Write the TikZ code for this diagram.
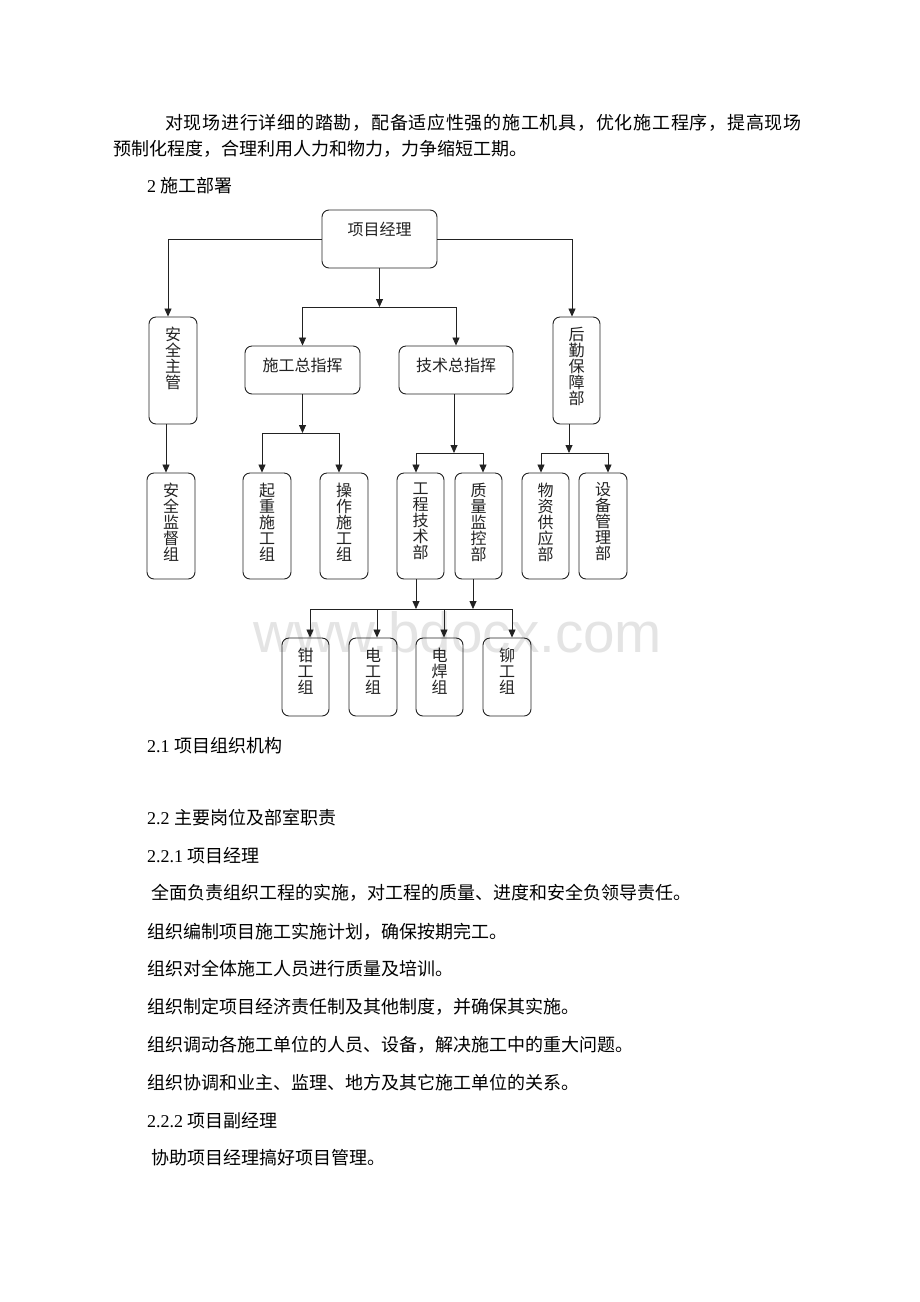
\documentclass[tikz,border=0pt]{standalone}
\usepackage{fontspec}
\usepackage{tikz}
\usetikzlibrary{arrows.meta}
\setmainfont{Liberation Serif}
\newfontfamily\cjk{Noto Sans CJK SC}
\newfontfamily\cjkwide[LetterSpace=4.1]{Noto Sans CJK SC}
\newfontfamily\wmfont{Liberation Sans}
\definecolor{ink}{HTML}{222222}
\definecolor{mark}{HTML}{E4E4E4}

\tikzset{
  box/.style={draw=ink, rounded corners=7pt, line width=0.9pt, inner sep=0pt},
  lbl/.style={font=\cjk\fontsize{16}{16}\selectfont, text=ink, align=center, inner sep=0pt, anchor=north},
  link/.style={draw=ink, line width=0.8pt},
  arr/.style={link, -{Triangle[length=8pt,width=7pt]}},
  body/.style={font=\fontsize{18}{18}\selectfont, text=black, anchor=base west, inner sep=0pt},
}

\begin{document}
\begin{tikzpicture}[x=1pt, y=-1pt]
\fill[white] (0,0) rectangle (920,1302);
\useasboundingbox (0,0) rectangle (920,1302);

% watermark
\node[font=\wmfont\fontsize{56.6}{56.6}\selectfont, text=mark, anchor=base west, inner sep=0pt] (wm) at (253,652) {www.bdocx.com};

% text above the chart
\node[body] (t1) at (165,129) {\cjkwide 对现场进行详细的踏勘，配备适应性强的施工机具，优化施工程序，提高现场};
\node[body] (t2) at (113,155) {\cjk 预制化程度，合理利用人力和物力，力争缩短工期。};
\node[body] (t3) at (147,192) {2 \cjk 施工部署};

% top level
\node[box, minimum width=115pt, minimum height=58pt, label={[lbl,yshift=-12pt]north:项目经理}] (pm) at (379.5,239) {};
\node[box, minimum width=48pt, minimum height=107pt, label={[lbl,yshift=-10pt]north:{安\\全\\主\\管}}] (safe) at (173,370.5) {};
\node[box, minimum width=47pt, minimum height=107pt, label={[lbl,yshift=-10pt]north:{后\\勤\\保\\障\\部}}] (logi) at (576.5,370.5) {};
\node[box, minimum width=115pt, minimum height=48pt, label={[lbl,yshift=-12pt]north:施工总指挥}] (cons) at (302.5,370) {};
\node[box, minimum width=114pt, minimum height=48pt, label={[lbl,yshift=-12pt]north:技术总指挥}] (tech) at (456,370) {};

% second row
\node[box, minimum width=48pt, minimum height=106pt, label={[lbl,yshift=-10pt]north:{安\\全\\监\\督\\组}}] (aqjd) at (171,526) {};
\node[box, minimum width=48pt, minimum height=106pt, label={[lbl,yshift=-10pt]north:{起\\重\\施\\工\\组}}] (qz) at (267,526) {};
\node[box, minimum width=48pt, minimum height=106pt, label={[lbl,yshift=-10pt]north:{操\\作\\施\\工\\组}}] (cz) at (344,526) {};
\node[box, minimum width=47pt, minimum height=106pt, label={[lbl,yshift=-10pt]north:{工\\程\\技\\术\\部}}] (gcjs) at (420.5,526) {};
\node[box, minimum width=47pt, minimum height=106pt, label={[lbl,yshift=-10pt]north:{质\\量\\监\\控\\部}}] (zljk) at (478.5,526) {};
\node[box, minimum width=47pt, minimum height=106pt, label={[lbl,yshift=-10pt]north:{物\\资\\供\\应\\部}}] (wz) at (545.5,526) {};
\node[box, minimum width=48pt, minimum height=106pt, label={[lbl,yshift=-10pt]north:{设\\备\\管\\理\\部}}] (sb) at (603,526) {};

% third row
\node[box, minimum width=47pt, minimum height=78pt, label={[lbl,yshift=-10pt]north:{钳\\工\\组}}] (qg) at (305.5,677) {};
\node[box, minimum width=48pt, minimum height=78pt, label={[lbl,yshift=-10pt]north:{电\\工\\组}}] (dg) at (373,677) {};
\node[box, minimum width=47pt, minimum height=78pt, label={[lbl,yshift=-10pt]north:{电\\焊\\组}}] (dh) at (439.5,677) {};
\node[box, minimum width=48pt, minimum height=78pt, label={[lbl,yshift=-10pt]north:{铆\\工\\组}}] (mg) at (507,677) {};

% junctions
\coordinate (j1) at (379.5,307);
\coordinate (j1a) at (302.5,307);
\coordinate (j1b) at (456,307);
\coordinate (j2) at (302.5,433);
\coordinate (j2a) at (262,433);
\coordinate (j2b) at (339,433);
\coordinate (j3) at (454,453);
\coordinate (j3a) at (416,453);
\coordinate (j3b) at (483,453);
\coordinate (j4) at (569,453);
\coordinate (j4a) at (541,453);
\coordinate (j4b) at (608,453);
\coordinate (j5a) at (416,609);
\coordinate (j5b) at (473,609);
\coordinate (j5l) at (310,609);
\coordinate (j5r) at (512,609);

% connectors
\draw[arr] (pm.west) -| ([xshift=-5pt]safe.north);
\draw[arr] (pm.east) -| ([xshift=-4.5pt]logi.north);
\draw[arr] (pm.south) -- (j1);
\draw[link] (j1a) -- (j1b);
\draw[arr] (j1a) -- (cons.north);
\draw[arr] (j1b) -- (tech.north);

\draw[arr] (cons.south) -- (j2);
\draw[link] (j2a) -- (j2b);
\draw[arr] (j2a) -- (j2a |- qz.north);
\draw[arr] (j2b) -- (j2b |- cz.north);

\draw[arr] ([xshift=-7pt]safe.south) -- ([xshift=-7pt]safe.south |- aqjd.north);

\draw[arr] (j3 |- tech.south) -- (j3);
\draw[link] (j3a) -- (j3b);
\draw[arr] (j3a) -- (j3a |- gcjs.north);
\draw[arr] (j3b) -- (j3b |- zljk.north);

\draw[arr] (j4 |- logi.south) -- (j4);
\draw[link] (j4a) -- (j4b);
\draw[arr] (j4a) -- (j4a |- wz.north);
\draw[arr] (j4b) -- (j4b |- sb.north);

\draw[arr] (j5a |- gcjs.south) -- (j5a);
\draw[arr] (j5b |- zljk.south) -- (j5b);
\draw[link] (j5l) -- (j5r);
\draw[arr] (j5l) -- (j5l |- qg.north);
\draw[arr] (377,609) -- (377,609 |- dg.north);
\draw[arr] (444,609) -- (444,609 |- dh.north);
\draw[arr] (j5r) -- (j5r |- mg.north);

% text below the chart
\node[body] (t4) at (147,752) {2.1 \cjk 项目组织机构};
\node[body] (t5) at (147,824) {2.2 \cjk 主要岗位及部室职责};
\node[body] (t6) at (147,862) {2.2.1 \cjk 项目经理};
\node[body] (t7) at (151,899) {\cjk 全面负责组织工程的实施，对工程的质量、进度和安全负领导责任。};
\node[body] (t8) at (147,938) {\cjk 组织编制项目施工实施计划，确保按期完工。};
\node[body] (t9) at (147,975) {\cjk 组织对全体施工人员进行质量及培训。};
\node[body] (t10) at (147,1013) {\cjk 组织制定项目经济责任制及其他制度，并确保其实施。};
\node[body] (t11) at (147,1051) {\cjk 组织调动各施工单位的人员、设备，解决施工中的重大问题。};
\node[body] (t12) at (147,1089) {\cjk 组织协调和业主、监理、地方及其它施工单位的关系。};
\node[body] (t13) at (147,1127) {2.2.2 \cjk 项目副经理};
\node[body] (t14) at (151,1164) {\cjk 协助项目经理搞好项目管理。};
\end{tikzpicture}
\end{document}
